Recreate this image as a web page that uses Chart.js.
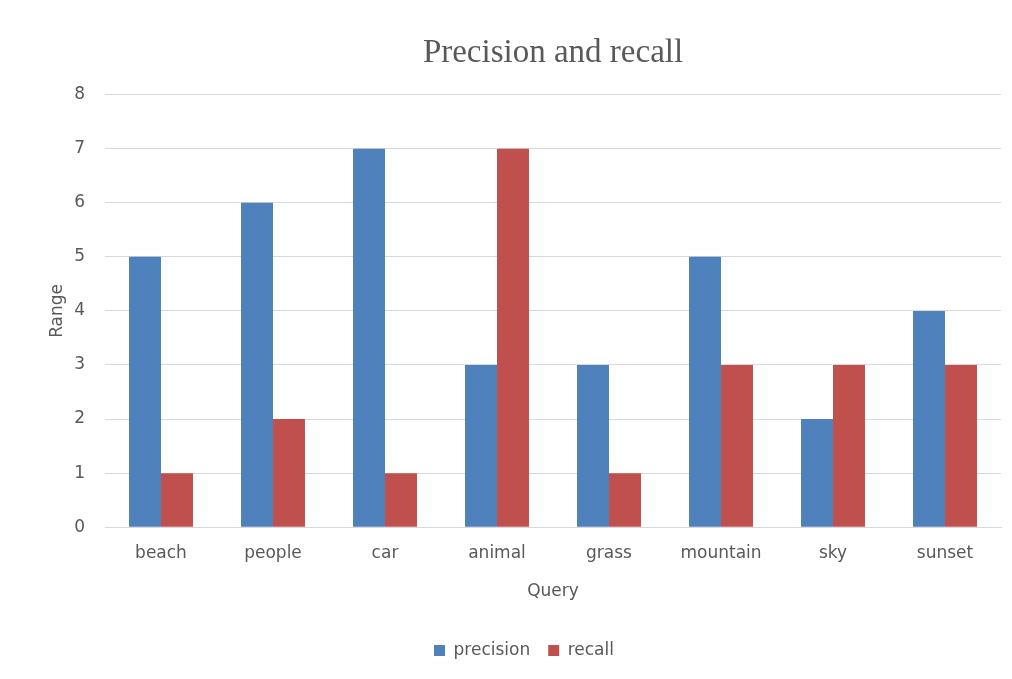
<!DOCTYPE html>
<html>
<head>
<meta charset="utf-8">
<script src="https://cdn.jsdelivr.net/npm/chart.js@4.4.1/dist/chart.umd.min.js"></script>
<style>
  html, body { margin: 0; padding: 0; background: #fff; }
  #wrap { width: 1012px; height: 679px; }
</style>
</head>
<body>
<div id="wrap"><canvas id="chart" width="1012" height="679"></canvas></div>
<script>
const categories = ["beach", "people", "car", "animal", "grass", "mountain", "sky", "sunset"];
const precision = [5, 6, 7, 3, 3, 5, 2, 4];
const recall = [1, 2, 1, 7, 1, 3, 3, 3];

const textColor = "#595959";
const uiFont = "'DejaVu Sans', sans-serif";

new Chart(document.getElementById("chart"), {
    type: "bar",
    data: {
        labels: categories,
        datasets: [
            { label: "precision", data: precision, backgroundColor: "#4F81BD" },
            { label: "recall", data: recall, backgroundColor: "#C0504D" }
        ]
    },
    options: {
        responsive: false,
        animation: false,
        categoryPercentage: 0.571,
        barPercentage: 1.0,
        layout: { padding: { left: 47, right: 11, top: 20, bottom: 10 } },
        plugins: {
            title: {
                display: true,
                text: "Precision and recall",
                color: textColor,
                fullSize: false,
                font: { family: "'Liberation Serif', 'DejaVu Serif', serif", size: 33, weight: "normal" },
                padding: { top: 14, bottom: 21 }
            },
            legend: {
                position: "bottom",
                labels: {
                    color: textColor,
                    font: { family: uiFont, size: 17 },
                    boxWidth: 11,
                    boxHeight: 11,
                    padding: 18
                }
            },
            tooltip: { enabled: false }
        },
        scales: {
            x: {
                grid: { display: false, drawTicks: false },
                border: { color: "#D9D9D9" },
                ticks: { color: textColor, font: { family: uiFont, size: 17 }, padding: 16 },
                title: {
                    display: true,
                    text: "Query",
                    color: textColor,
                    font: { family: uiFont, size: 17 },
                    padding: { top: 2, bottom: 22 }
                }
            },
            y: {
                min: 0,
                max: 8,
                ticks: { stepSize: 1, color: textColor, font: { family: uiFont, size: 17 }, padding: 20 },
                grid: { color: "#D9D9D9", drawTicks: false },
                border: { display: false },
                title: {
                    display: true,
                    text: "Range",
                    color: textColor,
                    font: { family: uiFont, size: 17 },
                    padding: { top: 0, bottom: 6 }
                },
                afterFit: (scale) => { scale.width = 58; }
            }
        }
    }
});
</script>
</body>
</html>
